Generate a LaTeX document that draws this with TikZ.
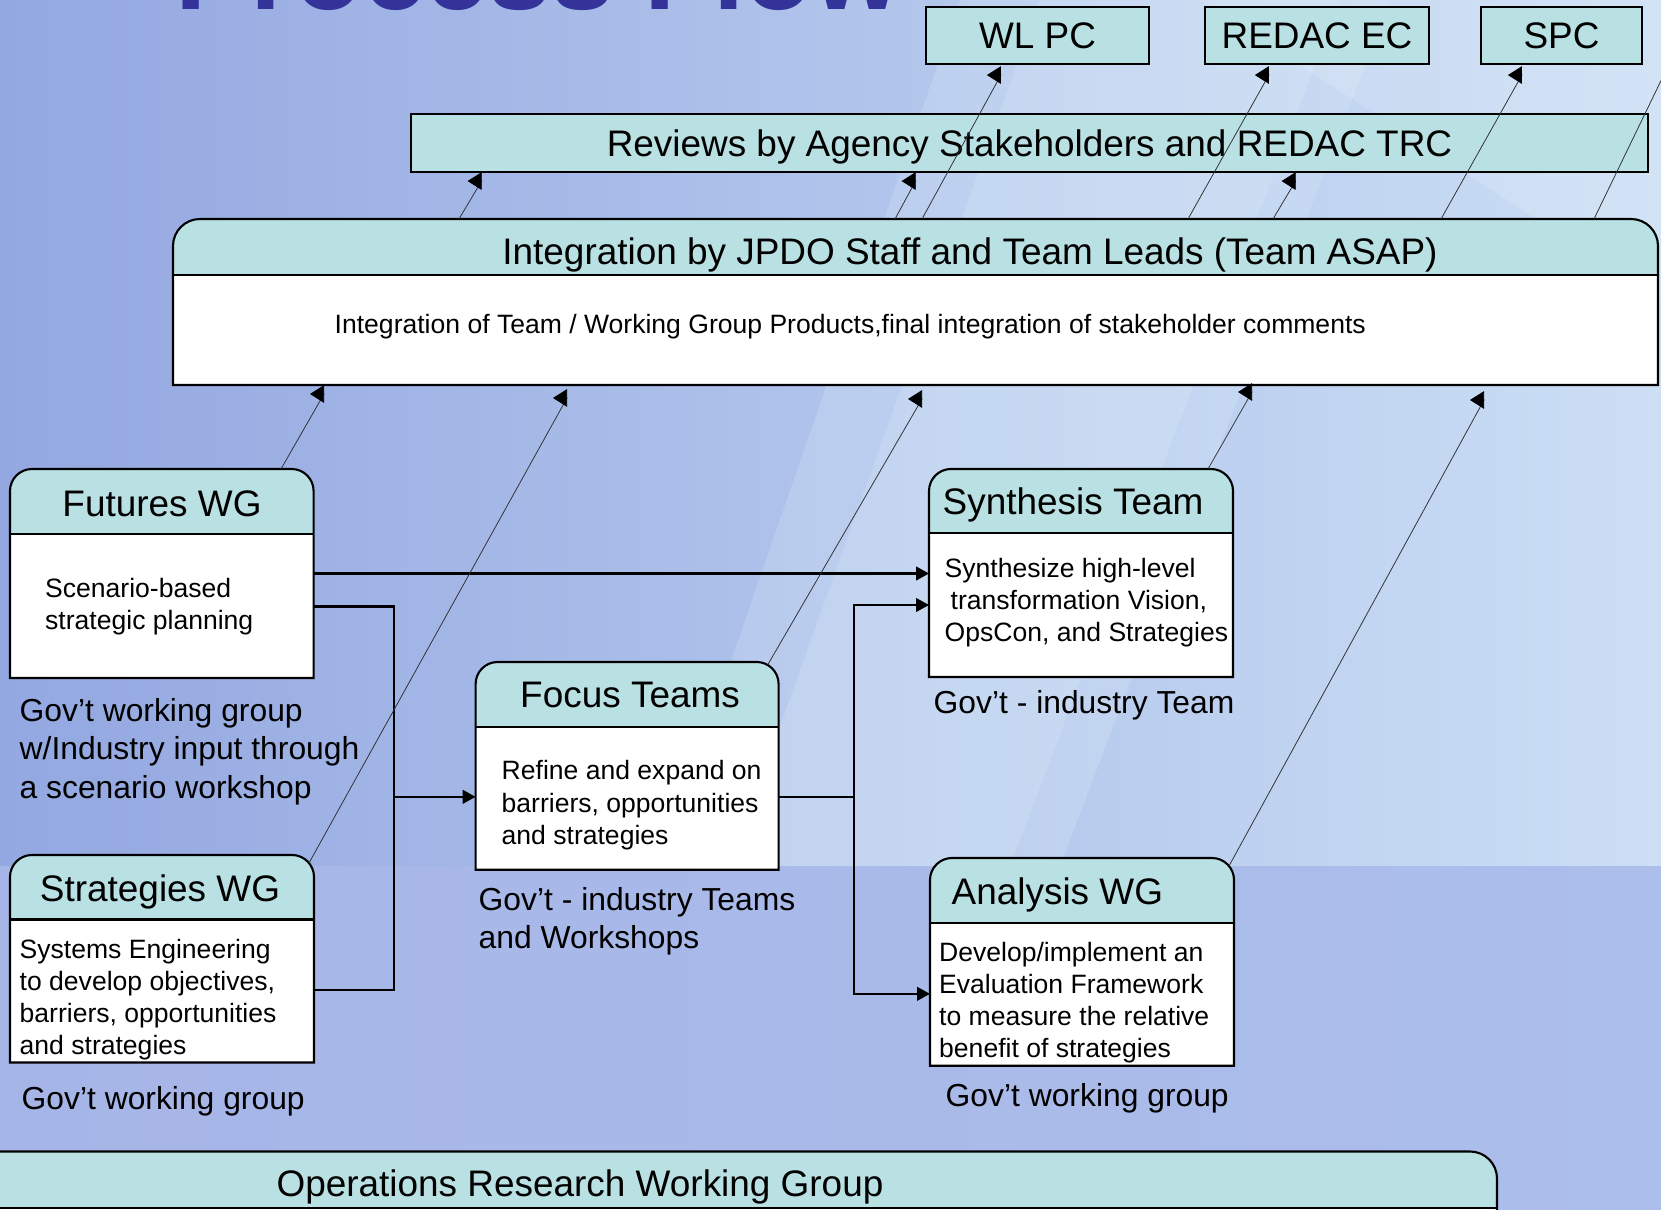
\documentclass[tikz,border=0pt]{standalone}
\usepackage{fontspec}
\setmainfont{Liberation Sans}
\usetikzlibrary{arrows.meta,calc,fit}
\definecolor{hdr}{HTML}{B9E0E2}
\definecolor{ttl}{HTML}{333399}
\definecolor{upA}{HTML}{93A7E1}
\definecolor{upB}{HTML}{B2C3EE}
\definecolor{upC}{HTML}{CCDFF5}
\definecolor{loA}{HTML}{A6B5E7}
\definecolor{loB}{HTML}{BCD1F2}
\definecolor{loC}{HTML}{ACBEEB}
\definecolor{pale}{HTML}{E2F1FA}
\definecolor{thinc}{HTML}{303030}
\newcommand{\roundbox}[7]{%
  \fill[white] (#2,#6) rectangle (#4,#5);
  \fill[hdr] (#2,#6) -- (#2,#3+#7) arc[start angle=180,end angle=270,radius=#7]
     -- (#4-#7,#3) arc[start angle=270,end angle=360,radius=#7] -- (#4,#6) -- cycle;
  \draw[boxline] (#2,#5) -- (#2,#3+#7) arc[start angle=180,end angle=270,radius=#7]
     -- (#4-#7,#3) arc[start angle=270,end angle=360,radius=#7] -- (#4,#5) -- cycle;
  \draw[boxline] (#2,#6) -- (#4,#6);
  \node[fit={(#2,#3) (#4,#5)}, inner sep=0pt, outer sep=0pt] (#1) {};}
\newcommand{\txt}[5]{\node[lbl,#4] (#1) at (#2,#3) {#5};}
\begin{document}
\begin{tikzpicture}[x=0.01cm,y=-0.01cm,
  boxline/.style={line width=0.6pt, draw=black},
  plainbox/.style={draw=black, line width=0.6pt, fill=hdr, inner sep=0pt,
    text height=7.5pt, text depth=0pt},
  hfont/.style={font=\fontsize{10.5}{12.6}\selectfont},
  bfont/.style={font=\fontsize{7.55}{9.1}\selectfont},
  cfont/.style={font=\fontsize{9.05}{10.8}\selectfont},
  lbl/.style={inner sep=0pt, anchor=base west},
  ctr/.style={anchor=base},
  flow/.style={line width=0.6pt, -{Triangle[length=3.7pt,width=3.9pt]}},
  flowline/.style={line width=0.6pt},
  thinflow/.style={line width=0.22pt, draw=thinc, -{Triangle[length=4pt,width=5pt,black]}},
  thinline/.style={line width=0.22pt, draw=thinc},
]
\useasboundingbox (0,0) rectangle (1661,1210);
% background
\shade[left color=upA, middle color=upB, right color=upC] (0,0) rectangle (1661,866);
\shade[left color=loA, middle color=loB, right color=loC] (0,866) rectangle (1661,1210);
\fill[pale, opacity=0.22] (660,866) -- (1060,866) -- (1390,0) -- (960,0) -- cycle;
\fill[pale, opacity=0.22] (730,866) -- (1010,866) -- (1340,0) -- (1040,0) -- cycle;
\fill[white, opacity=0.15] (1200,0) -- (1661,0) -- (1661,300) -- cycle;

% title (cut off at top)
\node[lbl, font=\fontsize{32}{38}\selectfont\bfseries, text=ttl] (title) at (175,10) {Process Flow};

% top boxes
\node[plainbox, hfont, minimum width=2.23cm, minimum height=0.57cm] (wlpc) at (1037.5,35.5) {WL PC};
\node[plainbox, hfont, minimum width=2.24cm, minimum height=0.57cm] (redac) at (1317,35.5) {REDAC EC};
\node[plainbox, hfont, minimum width=1.61cm, minimum height=0.57cm] (spc) at (1561.5,35.5) {SPC};
\node[plainbox, hfont, minimum width=12.37cm, minimum height=0.58cm] (rev) at (1029.5,143) {Reviews by Agency Stakeholders and REDAC TRC};

% integration box
\roundbox{integ}{173}{219}{1658}{385}{275}{27}
\txt{integt}{970}{265}{ctr,hfont}{Integration by JPDO Staff and Team Leads (Team ASAP)}
\txt{integb}{334}{334}{bfont}{Integration of Team / Working Group Products,final integration of stakeholder comments}

% Futures WG
\roundbox{futures}{10}{469}{313.6}{678}{534}{22}
\txt{futt}{162}{517}{ctr,hfont}{Futures WG}
\txt{futb1}{44.5}{598}{bfont}{Scenario-based}
\txt{futb2}{44.5}{630}{bfont}{strategic planning}
\txt{futc1}{19}{722}{cfont}{Gov’t working group}
\txt{futc2}{19}{760}{cfont}{w/Industry input through}
\txt{futc3}{19}{798}{cfont}{a scenario workshop}

% Strategies WG
\roundbox{strat}{10}{855}{314}{1062.5}{919.5}{22}
\txt{strt}{160}{901}{ctr,hfont}{Strategies WG}
\txt{strb1}{19}{958}{bfont}{Systems Engineering}
\txt{strb2}{19}{990}{bfont}{to develop objectives,}
\txt{strb3}{19}{1022}{bfont}{barriers, opportunities}
\txt{strb4}{19}{1054}{bfont}{and strategies}
\txt{strc1}{21}{1109}{cfont}{Gov’t working group}

% Focus Teams
\roundbox{focus}{475.6}{662}{778.6}{869.7}{726.7}{22}
\txt{foct}{630}{708}{ctr,hfont}{Focus Teams}
\txt{focb1}{501}{780}{bfont}{Refine and expand on}
\txt{focb2}{501}{812}{bfont}{barriers, opportunities}
\txt{focb3}{501}{844}{bfont}{and strategies}
\txt{focc1}{478}{910}{cfont}{Gov’t - industry Teams}
\txt{focc2}{478}{948}{cfont}{and Workshops}

% Synthesis Team
\roundbox{synth}{929}{469}{1233}{677}{533}{22}
\txt{synt}{942}{515}{hfont}{Synthesis Team}
\txt{synb1}{944}{578}{bfont}{Synthesize high-level}
\txt{synb2}{950}{610}{bfont}{transformation Vision,}
\txt{synb3}{944}{642}{bfont}{OpsCon, and Strategies}
\txt{sync1}{933}{714}{cfont}{Gov’t - industry Team}

% Analysis WG
\roundbox{anal}{930}{858}{1234}{1065.7}{922.7}{22}
\txt{anat}{951}{904}{hfont}{Analysis WG}
\txt{anab1}{938.5}{961}{bfont}{Develop/implement an}
\txt{anab2}{938.5}{993}{bfont}{Evaluation Framework}
\txt{anab3}{938.5}{1025}{bfont}{to measure the relative}
\txt{anab4}{938.5}{1057}{bfont}{benefit of strategies}
\txt{anac1}{945}{1106}{cfont}{Gov’t working group}

% Operations Research Working Group
\roundbox{ops}{-40}{1151.5}{1497}{1260}{1207.6}{27}
\txt{opst}{580}{1196}{ctr,hfont}{Operations Research Working Group}

% thick connectors
\coordinate (fo) at ($(futures.east)+(0,33)$);
\coordinate (fin) at ($(focus.west)+(0,31)$);
\coordinate (so) at ($(strat.east)+(0,31)$);
\coordinate (fout) at ($(focus.east)+(0,31)$);
\coordinate (sin2) at ($(synth.west)+(0,32)$);
\coordinate (ain) at ($(anal.west)+(0,32)$);
\draw[flow] (futures.east) -- (futures.east -| synth.west);
\draw[flow] (fo) -| ($(fin)+(-82,0)$) -- (fin);
\draw[flowline] (so) -| ($(fin)+(-82,0)$);
\draw[flow] (fout) -| ($(sin2)+(-75,0)$) -- (sin2);
\draw[flow] (fout) -| ($(ain)+(-76,0)$) -- (ain);

% thin connectors to integration
\coordinate (e1) at ($(integ.south west)+(151,9)$);
\coordinate (e2) at ($(integ.south west)+(394,13)$);
\coordinate (e3) at ($(integ.south west)+(749,14)$);
\coordinate (e4) at ($(integ.south west)+(1079,7)$);
\coordinate (e5) at ($(integ.south west)+(1311,15)$);
\draw[thinflow] ($(futures.north west)+(271,0)$) -- (e1) -- ++(-14,0);
\draw[thinflow] ($(strat.north west)+(299,8)$) -- (e2) -- ++(-14,0);
\draw[thinflow] ($(focus.north west)+(292,3)$) -- (e3) -- ++(-14,0);
\draw[thinflow] ($(synth.north west)+(279,0)$) -- (e4) -- ++(-14,0);
\draw[thinflow] ($(anal.north west)+(299,8)$) -- (e5) -- ++(-14,0);

% thin connectors to reviews
\coordinate (r1) at ($(rev.south west)+(72,8)$);
\coordinate (r2) at ($(rev.south west)+(506,8)$);
\coordinate (r3) at ($(rev.south west)+(886,8)$);
\draw[thinflow] ($(integ.north west)+(286,0)$) -- (r1) -- ++(-14,0);
\draw[thinflow] ($(integ.north west)+(722,0)$) -- (r2) -- ++(-14,0);
\draw[thinflow] ($(integ.north west)+(1100,0)$) -- (r3) -- ++(-14,0);

% thin connectors to committees
\coordinate (t1) at ($(wlpc.south west)+(76,10)$);
\coordinate (t2) at ($(redac.south west)+(65,10)$);
\coordinate (t3) at ($(spc.south west)+(42,10)$);
\coordinate (t4) at (1700,0);
\draw[thinflow] ($(integ.north west)+(749,0)$) -- (t1) -- ++(-14,0);
\draw[thinflow] ($(integ.north west)+(1015,0)$) -- (t2) -- ++(-14,0);
\draw[thinflow] ($(integ.north west)+(1268,0)$) -- (t3) -- ++(-14,0);
\draw[thinline] ($(integ.north west)+(1421,0)$) -- (t4);
\end{tikzpicture}
\end{document}
